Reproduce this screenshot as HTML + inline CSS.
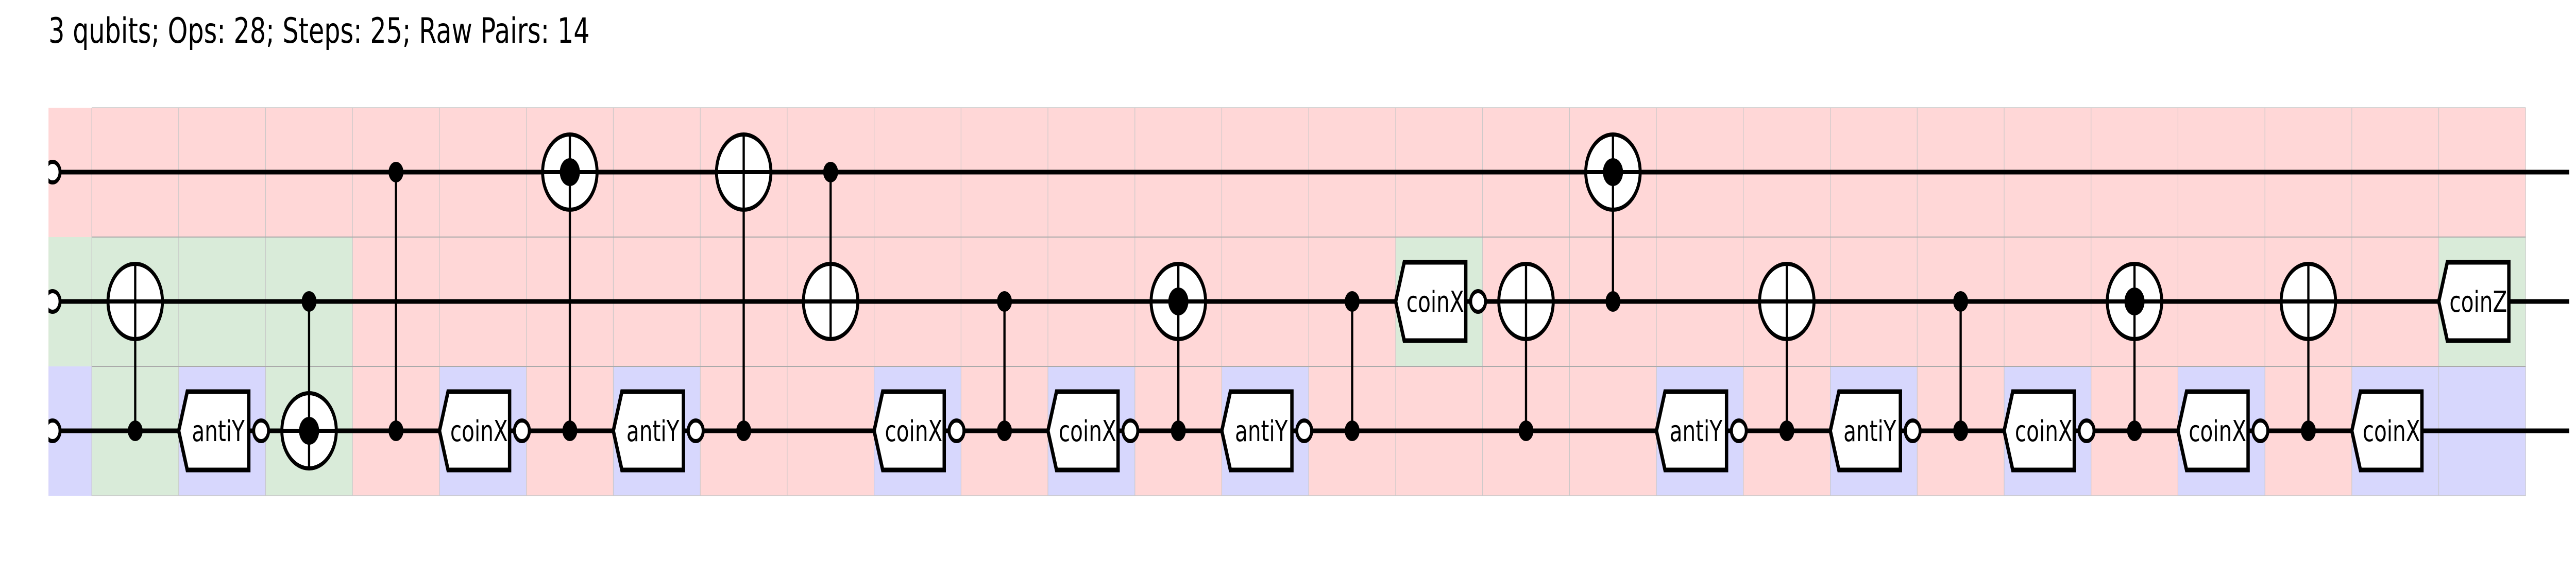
<!DOCTYPE html>
<html><head><meta charset="utf-8"><style>html,body{margin:0;padding:0;background:#fff;overflow:hidden}svg{display:block;width:100vw;height:100vh}</style></head>
<body>
<svg xmlns="http://www.w3.org/2000/svg" viewBox="0 0 6906 1110" preserveAspectRatio="none">
<defs>
<clipPath id="cl"><rect x="130" y="0" width="200" height="1110"/></clipPath>
<g id="gate"><polygon points="0,0 23,-76 188,-76 188,76 23,76" fill="#fff" stroke="#000" stroke-width="9" stroke-linejoin="miter"/></g>
<g id="oc"><circle cx="221" cy="0" r="20" fill="#fff" stroke="#000" stroke-width="8"/></g>
<g id="tg"><circle cx="0" cy="0" r="73" fill="#fff" stroke="#000" stroke-width="8"/><line x1="-73" y1="0" x2="73" y2="0" stroke="#000" stroke-width="8"/><line x1="0" y1="-73" x2="0" y2="73" stroke="#000" stroke-width="6"/></g>
<g id="tgd"><use href="#tg"/><circle cx="0" cy="0" r="27" fill="#000"/></g>
<circle id="dot" cx="0" cy="0" r="20" fill="#000"/>
</defs>
<text x="130" y="83" font-family="'DejaVu Sans','Liberation Sans',sans-serif" font-size="68" fill="#000">3 qubits; Ops: 28; Steps: 25; Raw Pairs: 14</text>
<rect x="130" y="209" width="6641" height="753" fill="#ffd7d7"/>
<g fill="#d9ebd9">
<rect x="130" y="460" width="116" height="251"/>
<rect x="246" y="460" width="699" height="251"/>
<rect x="246" y="711" width="233" height="251"/>
<rect x="712" y="711" width="233" height="251"/>
<rect x="3741.6" y="460" width="233" height="251"/>
<rect x="6538" y="460" width="233" height="251"/>
</g>
<g fill="#d7d7fd">
<rect x="130" y="711" width="116" height="251"/>
<rect x="479" y="711" width="233" height="251"/>
<rect x="1178.2" y="711" width="233" height="251"/>
<rect x="1644.2" y="711" width="233" height="251"/>
<rect x="2343.4" y="711" width="233" height="251"/>
<rect x="2809.4" y="711" width="233" height="251"/>
<rect x="3275.5" y="711" width="233" height="251"/>
<rect x="4440.7" y="711" width="233" height="251"/>
<rect x="4906.8" y="711" width="233" height="251"/>
<rect x="5372.9" y="711" width="233" height="251"/>
<rect x="5838.9" y="711" width="233" height="251"/>
<rect x="6305" y="711" width="233" height="251"/>
<rect x="6538" y="711" width="233" height="251"/>
</g>
<g stroke="#c8c8c8" stroke-width="1.5">
<line x1="246" y1="209" x2="246" y2="962"/><line x1="479" y1="209" x2="479" y2="962"/><line x1="712.1" y1="209" x2="712.1" y2="962"/><line x1="945.1" y1="209" x2="945.1" y2="962"/><line x1="1178.2" y1="209" x2="1178.2" y2="962"/><line x1="1411.2" y1="209" x2="1411.2" y2="962"/><line x1="1644.2" y1="209" x2="1644.2" y2="962"/><line x1="1877.3" y1="209" x2="1877.3" y2="962"/><line x1="2110.3" y1="209" x2="2110.3" y2="962"/><line x1="2343.4" y1="209" x2="2343.4" y2="962"/><line x1="2576.4" y1="209" x2="2576.4" y2="962"/><line x1="2809.4" y1="209" x2="2809.4" y2="962"/><line x1="3042.5" y1="209" x2="3042.5" y2="962"/><line x1="3275.5" y1="209" x2="3275.5" y2="962"/><line x1="3508.5" y1="209" x2="3508.5" y2="962"/><line x1="3741.6" y1="209" x2="3741.6" y2="962"/><line x1="3974.6" y1="209" x2="3974.6" y2="962"/><line x1="4207.7" y1="209" x2="4207.7" y2="962"/><line x1="4440.7" y1="209" x2="4440.7" y2="962"/><line x1="4673.7" y1="209" x2="4673.7" y2="962"/><line x1="4906.8" y1="209" x2="4906.8" y2="962"/><line x1="5139.8" y1="209" x2="5139.8" y2="962"/><line x1="5372.9" y1="209" x2="5372.9" y2="962"/><line x1="5605.9" y1="209" x2="5605.9" y2="962"/><line x1="5838.9" y1="209" x2="5838.9" y2="962"/><line x1="6072" y1="209" x2="6072" y2="962"/><line x1="6305" y1="209" x2="6305" y2="962"/><line x1="6538" y1="209" x2="6538" y2="962"/><line x1="6771" y1="209" x2="6771" y2="962"/>
<line x1="246" y1="209" x2="6771" y2="209"/><line x1="246" y1="962" x2="6771" y2="962"/>
</g>
<g stroke="#aaa" stroke-width="2"><line x1="246" y1="460" x2="6771" y2="460"/><line x1="246" y1="711" x2="6771" y2="711"/></g>
<g stroke="#000" stroke-width="9">
<line x1="141" y1="334" x2="6888" y2="334"/><line x1="141" y1="585" x2="6888" y2="585"/><line x1="141" y1="836" x2="6888" y2="836"/>
</g>
<g clip-path="url(#cl)" fill="#fff" stroke="#000" stroke-width="8">
<circle cx="141" cy="334" r="20"/><circle cx="141" cy="585" r="20"/><circle cx="141" cy="836" r="20"/>
</g>
<g stroke="#000" stroke-width="6">
<line x1="362.5" y1="585" x2="362.5" y2="836"/>
<line x1="828.6" y1="585" x2="828.6" y2="836"/>
<line x1="1061.6" y1="334" x2="1061.6" y2="836"/>
<line x1="1527.7" y1="334" x2="1527.7" y2="836"/>
<line x1="1993.8" y1="334" x2="1993.8" y2="836"/>
<line x1="2226.8" y1="334" x2="2226.8" y2="585"/>
<line x1="2692.9" y1="585" x2="2692.9" y2="836"/>
<line x1="3159" y1="585" x2="3159" y2="836"/>
<line x1="3625" y1="585" x2="3625" y2="836"/>
<line x1="4091.1" y1="585" x2="4091.1" y2="836"/>
<line x1="4324.2" y1="334" x2="4324.2" y2="585"/>
<line x1="4790.2" y1="585" x2="4790.2" y2="836"/>
<line x1="5256.3" y1="585" x2="5256.3" y2="836"/>
<line x1="5722.4" y1="585" x2="5722.4" y2="836"/>
<line x1="6188.5" y1="585" x2="6188.5" y2="836"/>
</g>
<use href="#tg" x="362.5" y="585"/>
<use href="#tgd" x="828.6" y="836"/>
<use href="#tgd" x="1527.7" y="334"/>
<use href="#tg" x="1993.8" y="334"/>
<use href="#tg" x="2226.8" y="585"/>
<use href="#tgd" x="3159" y="585"/>
<use href="#tg" x="4091.1" y="585"/>
<use href="#tgd" x="4324.2" y="334"/>
<use href="#tg" x="4790.2" y="585"/>
<use href="#tgd" x="5722.4" y="585"/>
<use href="#tg" x="6188.5" y="585"/>
<use href="#dot" x="362.5" y="836"/>
<use href="#dot" x="828.6" y="585"/>
<use href="#dot" x="1061.6" y="334"/><use href="#dot" x="1061.6" y="836"/>
<use href="#dot" x="1527.7" y="836"/>
<use href="#dot" x="1993.8" y="836"/>
<use href="#dot" x="2226.8" y="334"/>
<use href="#dot" x="2692.9" y="585"/><use href="#dot" x="2692.9" y="836"/>
<use href="#dot" x="3159" y="836"/>
<use href="#dot" x="3625" y="585"/><use href="#dot" x="3625" y="836"/>
<use href="#dot" x="4091.1" y="836"/>
<use href="#dot" x="4324.2" y="585"/>
<use href="#dot" x="4790.2" y="836"/>
<use href="#dot" x="5256.3" y="585"/><use href="#dot" x="5256.3" y="836"/>
<use href="#dot" x="5722.4" y="836"/>
<use href="#dot" x="6188.5" y="836"/>
<use href="#gate" x="479" y="836"/><use href="#oc" x="479" y="836"/>
<use href="#gate" x="1178.2" y="836"/><use href="#oc" x="1178.2" y="836"/>
<use href="#gate" x="1644.2" y="836"/><use href="#oc" x="1644.2" y="836"/>
<use href="#gate" x="2343.4" y="836"/><use href="#oc" x="2343.4" y="836"/>
<use href="#gate" x="2809.4" y="836"/><use href="#oc" x="2809.4" y="836"/>
<use href="#gate" x="3275.5" y="836"/><use href="#oc" x="3275.5" y="836"/>
<use href="#gate" x="3741.6" y="585"/><use href="#oc" x="3741.6" y="585"/>
<use href="#gate" x="4440.7" y="836"/><use href="#oc" x="4440.7" y="836"/>
<use href="#gate" x="4906.8" y="836"/><use href="#oc" x="4906.8" y="836"/>
<use href="#gate" x="5372.9" y="836"/><use href="#oc" x="5372.9" y="836"/>
<use href="#gate" x="5838.9" y="836"/><use href="#oc" x="5838.9" y="836"/>
<use href="#gate" x="6305" y="836"/>
<use href="#gate" x="6538" y="585"/>
<g font-family="'DejaVu Sans','Liberation Sans',sans-serif" font-size="56" text-anchor="middle" fill="#000">
<text x="585" y="856">antiY</text>
<text x="1284.2" y="856">coinX</text>
<text x="1750.2" y="856">antiY</text>
<text x="2449.4" y="856">coinX</text>
<text x="2915.4" y="856">coinX</text>
<text x="3381.5" y="856">antiY</text>
<text x="3847.6" y="605">coinX</text>
<text x="4546.7" y="856">antiY</text>
<text x="5012.8" y="856">antiY</text>
<text x="5478.9" y="856">coinX</text>
<text x="5944.9" y="856">coinX</text>
<text x="6411" y="856">coinX</text>
<text x="6644" y="605">coinZ</text>
</g>
</svg>
</body></html>
